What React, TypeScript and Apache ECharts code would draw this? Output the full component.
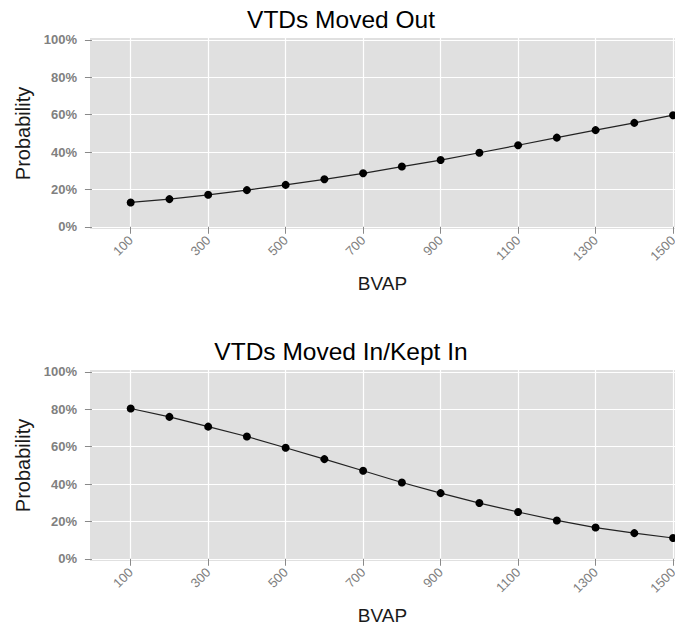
import React, { useEffect, useRef } from "react";
import * as echarts from "echarts";

const bvap = [100, 200, 300, 400, 500, 600, 700, 800, 900, 1000, 1100, 1200, 1300, 1400, 1500];
const movedOut = [0.13, 0.148, 0.171, 0.196, 0.224, 0.254, 0.286, 0.322, 0.357, 0.396, 0.436, 0.477, 0.517, 0.556, 0.597];
const movedIn = [0.804, 0.759, 0.707, 0.654, 0.594, 0.533, 0.471, 0.408, 0.351, 0.298, 0.25, 0.205, 0.167, 0.137, 0.111];
const xTicks = [100, 300, 500, 700, 900, 1100, 1300, 1500];
const yTicks = [0, 0.2, 0.4, 0.6, 0.8, 1.0];
const titles = ["VTDs Moved Out", "VTDs Moved In/Kept In"];
const xName = "BVAP";
const yName = "Probability";

const FONT = "Liberation Sans, Arial, sans-serif";

export default function App() {
  const ref = useRef<HTMLDivElement>(null);
  useEffect(() => {
    if (!ref.current) return;
    const chart = echarts.init(ref.current, undefined, { renderer: "svg" });
    const gridTops = [38, 370];
    const grids = gridTops.map((t) => ({
      left: 90,
      right: 0,
      top: t,
      height: 191,
      show: true,
      backgroundColor: "#e0e0e0",
      borderWidth: 0,
      containLabel: false,
      outerBoundsMode: "none",
    }));
    const xAxes = gridTops.map((_, i) => ({
      type: "value",
      gridIndex: i,
      min: -5,
      max: 1505,
      name: xName,
      nameLocation: "middle",
      nameGap: 45,
      nameTextStyle: { fontSize: 19, color: "#1a1a1a", fontFamily: FONT },
      axisLine: { show: false },
      axisTick: { show: true, length: 7, customValues: xTicks, lineStyle: { color: "#8a8a8a", width: 1 } },
      axisLabel: {
        customValues: xTicks,
        rotate: 45,
        margin: 9,
        fontSize: 13,
        color: "#808080",
        fontFamily: FONT,
        formatter: (v: number) => String(v),
      },
      splitLine: { show: true, lineStyle: { color: "#ffffff", width: 1.2 } },
    }));
    const yAxes = gridTops.map((_, i) => ({
      type: "value",
      gridIndex: i,
      min: -0.012,
      max: 1.01,
      name: yName,
      nameLocation: "middle",
      nameRotate: 90,
      nameGap: 57,
      nameTextStyle: { fontSize: 20, color: "#1a1a1a", fontFamily: FONT },
      axisLine: { show: false },
      axisTick: { show: true, length: 7, customValues: yTicks, lineStyle: { color: "#8a8a8a", width: 1 } },
      axisLabel: {
        customValues: yTicks,
        margin: 13,
        fontSize: 13,
        fontWeight: "bold",
        color: "#808080",
        fontFamily: FONT,
        formatter: (v: number) => Math.round(v * 100) + "%",
      },
      splitLine: { show: true, lineStyle: { color: "#ffffff", width: 1.2 } },
    }));
    const series = [movedOut, movedIn].map((vals, i) => ({
      type: "line",
      xAxisIndex: i,
      yAxisIndex: i,
      data: bvap.map((x, j) => [x, vals[j]]),
      symbol: "circle",
      symbolSize: 8,
      itemStyle: { color: "#000000" },
      lineStyle: { color: "#222222", width: 1.2 },
      clip: false,
    }));
    chart.setOption({
      animation: false,
      grid: grids,
      xAxis: xAxes,
      yAxis: yAxes,
      series,
      graphic: titles.map((t, i) => ({
        type: "text",
        x: 341,
        y: gridTops[i] - 18.5,
        style: {
          text: t,
          fontSize: 24.5,
          fontFamily: FONT,
          fill: "#000000",
          align: "center",
          verticalAlign: "middle",
        },
      })),
    });
    return () => chart.dispose();
  }, []);
  return (
    <div
      ref={ref}
      style={{ position: "absolute", left: 0, top: 0, width: 675, height: 626, background: "#ffffff" }}
    />
  );
}
